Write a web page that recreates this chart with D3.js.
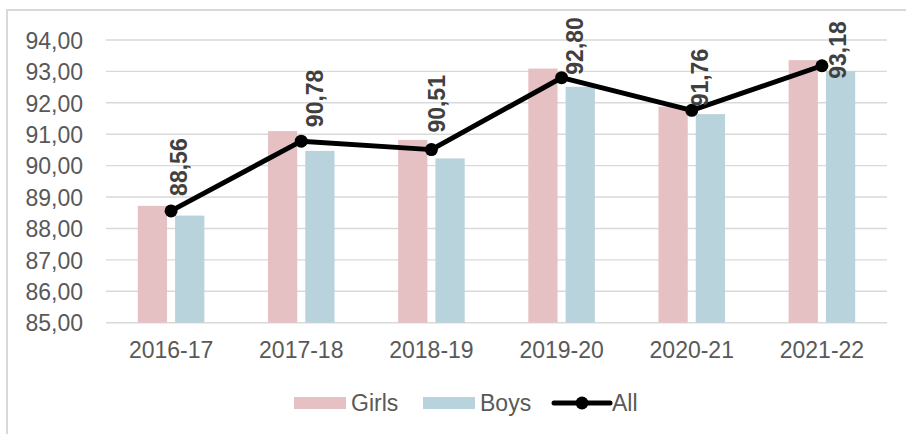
<!DOCTYPE html>
<html>
<head>
<meta charset="utf-8">
<script src="https://cdn.jsdelivr.net/npm/d3@7"></script>
<style>
  html, body { margin: 0; padding: 0; background: #fff; }
  svg { display: block; font-family: "Liberation Sans", Arial, sans-serif; }
</style>
</head>
<body>
<svg id="chart" width="906" height="434"></svg>
<script>
// ---- data ----
const categories = ["2016-17", "2017-18", "2018-19", "2019-20", "2020-21", "2021-22"];
const girls = [88.72, 91.10, 90.82, 93.09, 91.88, 93.36];
const boys  = [88.41, 90.47, 90.23, 92.51, 91.64, 93.01];
const all   = [88.56, 90.78, 90.51, 92.80, 91.76, 93.18];
const yTicks = [85, 86, 87, 88, 89, 90, 91, 92, 93, 94];
const seriesNames = ["Girls", "Boys", "All"];

// label nudges (layout only): [dx, dy] of label start relative to the point
const labelNudge = [[16, -15], [22, -14], [14, -17], [21, -3], [16, -4], [24, 13]];

// ---- layout ----
const W = 906, H = 434;
const plot = { left: 106, right: 887, top: 40, bottom: 322.7 };
const colors = { Girls: "#E6C1C4", Boys: "#B8D3DC", All: "#000000" };
const fontSize = 23;

const svg = d3.select("#chart");
const fmt = v => d3.format(".2f")(v).replace(".", ",");

// chart border
svg.append("rect")
  .attr("x", 7).attr("y", 10).attr("width", 1000).attr("height", 1000)
  .attr("fill", "#fff").attr("stroke", "#D9D9D9").attr("stroke-width", 2);

const x0 = d3.scaleBand().domain(categories).range([plot.left, plot.right]).padding(0);
const x1 = d3.scaleBand().domain(["Girls", "Boys"]).range([0, x0.bandwidth()])
  .paddingInner(0.215).paddingOuter(0.853);
const y = d3.scaleLinear().domain([85, 94]).range([plot.bottom, plot.top]);

// gridlines
svg.append("g").selectAll("line").data(yTicks).join("line")
  .attr("x1", plot.left).attr("x2", plot.right)
  .attr("y1", d => y(d)).attr("y2", d => y(d))
  .attr("stroke", "#D9D9D9").attr("stroke-width", 1.4);

// y axis labels
const yAxis = d3.axisLeft(y).tickValues(yTicks).tickFormat(fmt).tickSize(0).tickPadding(0);
const gy = svg.append("g").attr("transform", `translate(83,0)`).call(yAxis);
gy.select(".domain").remove();
gy.selectAll("text").attr("font-size", fontSize).attr("fill", "#595959")
  .attr("font-family", "Liberation Sans, Arial, sans-serif").attr("dy", "0.36em");

// x axis labels
const xAxis = d3.axisBottom(x0).tickSize(0).tickPadding(0);
const gx = svg.append("g").attr("transform", `translate(0,${plot.bottom})`).call(xAxis);
gx.select(".domain").remove();
gx.selectAll("text").attr("font-size", fontSize).attr("fill", "#595959")
  .attr("font-family", "Liberation Sans, Arial, sans-serif")
  .attr("y", 0).attr("dy", 35.5);

// bars
const barData = [];
categories.forEach((c, i) => {
  barData.push({ cat: c, key: "Girls", value: girls[i] });
  barData.push({ cat: c, key: "Boys", value: boys[i] });
});
svg.append("g").selectAll("rect").data(barData).join("rect")
  .attr("x", d => x0(d.cat) + x1(d.key))
  .attr("width", x1.bandwidth())
  .attr("y", d => y(d.value))
  .attr("height", d => y(85) - y(d.value))
  .attr("fill", d => colors[d.key]);

// line
const cx = c => x0(c) + x0.bandwidth() / 2;
const lineData = categories.map((c, i) => ({ cat: c, value: all[i], i }));
svg.append("path").datum(lineData)
  .attr("d", d3.line().x(d => cx(d.cat)).y(d => y(d.value)))
  .attr("fill", "none").attr("stroke", colors.All).attr("stroke-width", 5)
  .attr("stroke-linejoin", "round");
svg.append("g").selectAll("circle").data(lineData).join("circle")
  .attr("cx", d => cx(d.cat)).attr("cy", d => y(d.value)).attr("r", 6.5)
  .attr("fill", colors.All);

// data labels (rotated)
svg.append("g").selectAll("text").data(lineData).join("text")
  .attr("transform", d => {
    const px = cx(d.cat) + labelNudge[d.i][0];
    const py = y(d.value) + labelNudge[d.i][1];
    return `translate(${px},${py}) rotate(-90)`;
  })
  .attr("text-anchor", "start")
  .attr("font-size", fontSize).attr("font-weight", "bold").attr("fill", "#404040")
  .text(d => fmt(d.value));

// legend
const lg = svg.append("g");
const legendItems = [
  { name: seriesNames[0], type: "rect", x: 294, tx: 351 },
  { name: seriesNames[1], type: "rect", x: 423, tx: 480 },
  { name: seriesNames[2], type: "line", x: 554, tx: 612 }
];
legendItems.forEach(it => {
  if (it.type === "rect") {
    lg.append("rect").attr("x", it.x).attr("y", 397).attr("width", 52).attr("height", 12)
      .attr("fill", colors[it.name]);
  } else {
    lg.append("line").attr("x1", it.x).attr("x2", it.x + 56).attr("y1", 403).attr("y2", 403)
      .attr("stroke", colors.All).attr("stroke-width", 5).attr("stroke-linecap", "round");
    lg.append("circle").attr("cx", it.x + 28).attr("cy", 403).attr("r", 6.5).attr("fill", colors.All);
  }
  lg.append("text").attr("x", it.tx).attr("y", 411)
    .attr("font-size", fontSize).attr("fill", "#595959").text(it.name);
});
</script>
</body>
</html>
